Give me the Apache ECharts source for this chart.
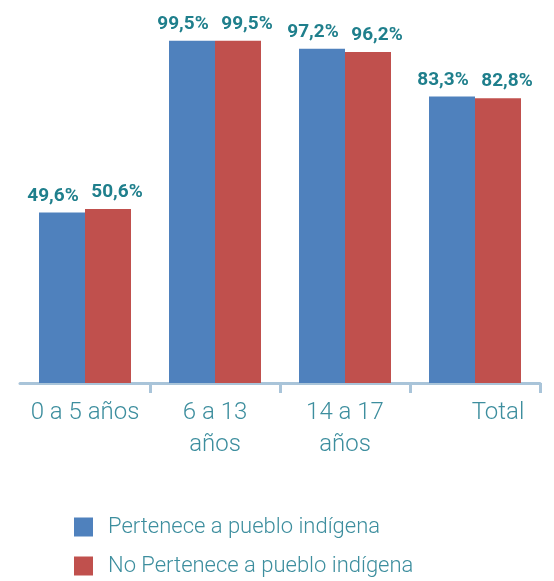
<!DOCTYPE html>
<html>
<head>
<meta charset="utf-8">
<script src="https://cdn.jsdelivr.net/npm/echarts@6/dist/echarts.min.js"></script>
<style>
  html, body { margin: 0; padding: 0; background: #fff; }
  #chart { width: 554px; height: 581px; }
</style>
</head>
<body>
<div id="chart"></div>
<script>
// datos del gráfico
const categorias = ['0 a 5 años', '6 a 13\naños', '14 a 17\naños', 'Total']
const pertenece = [49.6, 99.5, 97.2, 83.3]
const noPertenece = [50.6, 99.5, 96.2, 82.8]
const nombresSeries = ['Pertenece a pueblo indígena', 'No Pertenece a pueblo indígena']

const azul = '#4f81bd'
const rojo = '#c0504d'
const tealEtiqueta = '#1f7f8c'
const tealTexto = '#3d8e9e'

const fmt = p => p.value.toFixed(1).replace('.', ',') + '%'

const chart = echarts.init(document.getElementById('chart'))

const etiqueta = (dx) => ({
  show: true,
  position: 'top',
  distance: 7,
  offset: [dx, 0],
  formatter: fmt,
  color: tealEtiqueta,
  fontFamily: 'Roboto',
  fontWeight: 'bold',
  fontSize: 19
})

// en el original la etiqueta "Total" queda corrida a la derecha
const datosEje = categorias.map(c =>
  c === 'Total' ? { value: c, textStyle: { padding: [0, 0, 0, 46] } } : c
)

chart.setOption({
  animation: false,
  grid: { left: 20, right: 14, top: 39, bottom: 198 },
  legend: {
    orient: 'vertical',
    left: 74,
    top: 516,
    bottom: 0,
    itemWidth: 19,
    itemHeight: 19,
    itemGap: 17,
    icon: 'rect',
    padding: 0,
    textStyle: {
      color: tealTexto,
      fontFamily: 'Roboto',
      fontWeight: 300,
      fontSize: 22,
      padding: [0, 0, 0, 10]
    },
    data: nombresSeries
  },
  xAxis: {
    type: 'category',
    data: datosEje,
    axisLine: { lineStyle: { color: '#a9c4d9', width: 3 } },
    axisTick: {
      show: true,
      interval: (i) => i > 0 && i < categorias.length,
      length: 10,
      lineStyle: { color: '#a9c4d9', width: 3 }
    },
    axisLabel: {
      interval: 0,
      margin: 14,
      color: tealTexto,
      fontFamily: 'Roboto',
      fontWeight: 300,
      fontSize: 24,
      lineHeight: 32
    }
  },
  yAxis: {
    type: 'value',
    min: 0,
    max: 100,
    show: false,
    splitLine: { show: false }
  },
  series: [
    {
      name: nombresSeries[0],
      type: 'bar',
      data: pertenece,
      barWidth: 46,
      barGap: '0%',
      itemStyle: { color: azul },
      label: etiqueta(-9)
    },
    {
      name: nombresSeries[1],
      type: 'bar',
      data: noPertenece,
      barWidth: 46,
      barGap: '0%',
      itemStyle: { color: rojo },
      label: etiqueta(9)
    }
  ]
})
</script>
</body>
</html>
